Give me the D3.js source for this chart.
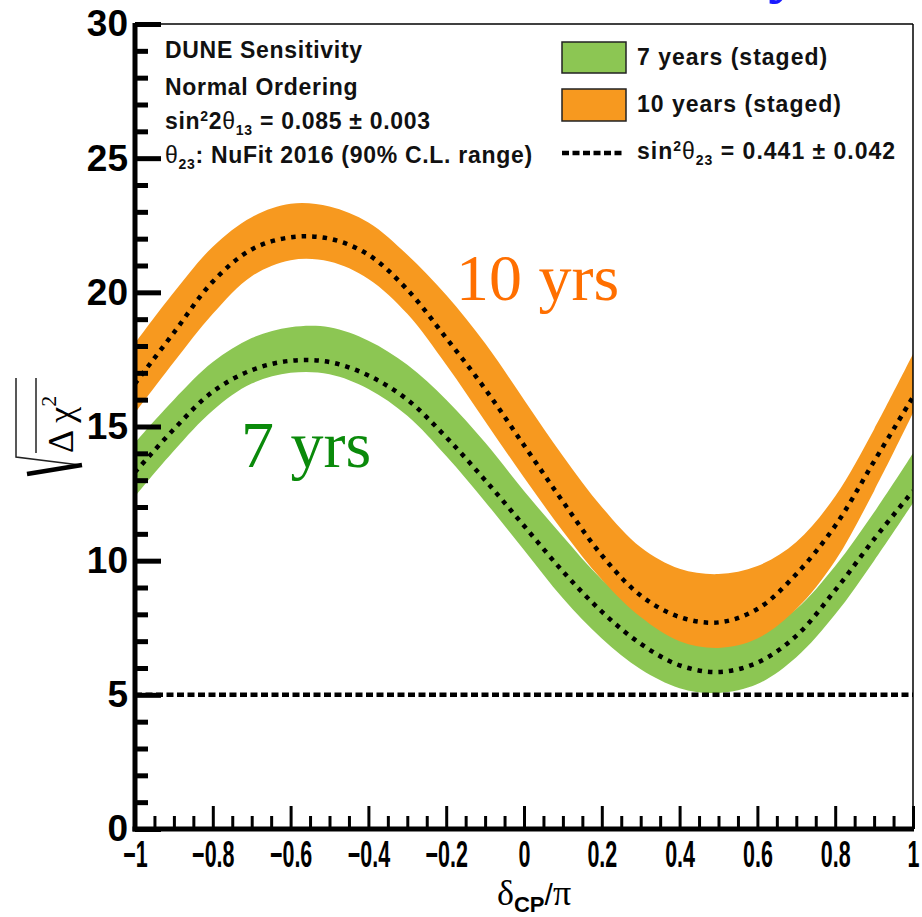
<!DOCTYPE html>
<html>
<head>
<meta charset="utf-8">
<script src="https://cdn.jsdelivr.net/npm/d3@7"></script>
<style>
  body { margin: 0; background: #fff; }
</style>
</head>
<body>
<div id="chart"></div>
<script>
// delta_CP / pi sample points
var dcp = [-1, -0.9, -0.8, -0.7, -0.6, -0.5, -0.4, -0.3, -0.2, -0.1, 0,
           0.1, 0.2, 0.3, 0.4, 0.5, 0.6, 0.7, 0.8, 0.9, 1];

// 10 years (staged): band edges and central (dotted) curve
var o10Hi  = [18.1, 20.0, 21.7, 22.8, 23.3, 23.2, 22.6, 21.4, 19.9, 18.1, 16.0,
              13.9, 12.0, 10.5, 9.7, 9.5, 9.8, 10.7, 12.4, 14.9, 17.7];
var o10Mid = [16.6, 18.5, 20.4, 21.6, 22.05, 22.0, 21.4, 20.1, 18.3, 16.4, 14.3,
              12.2, 10.2, 8.7, 7.9, 7.7, 8.2, 9.5, 11.3, 13.7, 16.1];
var o10Lo  = [15.5, 17.4, 19.2, 20.6, 21.2, 21.15, 20.5, 19.2, 17.3, 15.2, 13.1,
              11.1, 9.3, 7.9, 7.0, 6.75, 7.1, 8.2, 10.0, 12.6, 15.5];

// 7 years (staged)
var g7Hi  = [14.4, 16.0, 17.4, 18.3, 18.7, 18.7, 18.2, 17.3, 16.0, 14.4, 12.6,
             10.9, 9.3, 8.1, 7.3, 7.0, 7.3, 8.2, 9.8, 11.8, 14.0];
var g7Mid = [13.3, 14.9, 16.3, 17.1, 17.45, 17.4, 16.9, 16.0, 14.6, 13.0, 11.3,
             9.6, 8.1, 6.9, 6.1, 5.85, 6.2, 7.2, 8.9, 10.8, 12.6];
var g7Lo  = [12.4, 14.1, 15.6, 16.6, 17.0, 16.95, 16.4, 15.4, 13.9, 12.2, 10.4,
             8.6, 7.1, 5.95, 5.25, 5.07, 5.4, 6.4, 8.0, 10.0, 12.15];

var fiveSigma = 5;

var xTickVals = [-1, -0.8, -0.6, -0.4, -0.2, 0, 0.2, 0.4, 0.6, 0.8, 1];
var xTickLabels = ["\u22121", "\u22120.8", "\u22120.6", "\u22120.4", "\u22120.2", "0",
                   "0.2", "0.4", "0.6", "0.8", "1"];
var yTickVals = [0, 5, 10, 15, 20, 25, 30];

var green = "#8cc653", orange = "#f7991f";
var SANS = "Liberation Sans, Arial, sans-serif", SERIF = "Liberation Serif, Times New Roman, serif";

var W = 922, H = 917;
var x = d3.scaleLinear().domain([-1, 1]).range([135, 913]);
var y = d3.scaleLinear().domain([0, 30]).range([829, 24]);

var svg = d3.select("#chart").append("svg")
    .attr("width", W)
    .attr("height", H)
    .attr("font-family", SANS);

svg.append("clipPath").attr("id", "plot")
    .append("rect").attr("x", 135).attr("y", 24).attr("width", 778).attr("height", 805);

var plot = svg.append("g").attr("clip-path", "url(#plot)");

function band(hi, lo) {
    return d3.area()
        .x(function (d, i) { return x(dcp[i]); })
        .y0(function (d, i) { return y(lo[i]); })
        .y1(function (d, i) { return y(hi[i]); })
        .curve(d3.curveCatmullRom.alpha(0.5))(dcp);
}
function mid(vals) {
    return d3.line()
        .x(function (d, i) { return x(dcp[i]); })
        .y(function (d, i) { return y(vals[i]); })
        .curve(d3.curveCatmullRom.alpha(0.5))(dcp);
}

plot.append("path").attr("d", band(g7Hi, g7Lo)).attr("fill", green);
plot.append("path").attr("d", band(o10Hi, o10Lo)).attr("fill", orange);

[g7Mid, o10Mid].forEach(function (v) {
    plot.append("path").attr("d", mid(v))
        .attr("fill", "none").attr("stroke", "#000")
        .attr("stroke-width", 4.5).attr("stroke-dasharray", "4.5,6");
});

plot.append("line")
    .attr("x1", x(-1)).attr("x2", x(1))
    .attr("y1", y(fiveSigma)).attr("y2", y(fiveSigma))
    .attr("stroke", "#000").attr("stroke-width", 4.5).attr("stroke-dasharray", "7,3.5");

// frame (thin top / right)
svg.append("line").attr("x1", 135).attr("x2", 913).attr("y1", 24).attr("y2", 24)
    .attr("stroke", "#000").attr("stroke-width", 1.5);
svg.append("line").attr("x1", 913).attr("x2", 913).attr("y1", 24).attr("y2", 829)
    .attr("stroke", "#000").attr("stroke-width", 1.5);

// y axis: minor then major
var yMinor = d3.range(0, 31).filter(function (v) { return v % 5 !== 0; });
svg.append("g").attr("transform", "translate(135,0)")
    .call(d3.axisLeft(y).tickValues(yMinor).tickSize(-13).tickSizeOuter(0).tickFormat(""))
    .call(function (g) { g.select(".domain").remove(); })
    .selectAll("line").attr("stroke-width", 5);

var yAx = svg.append("g").attr("transform", "translate(135,0)")
    .call(d3.axisLeft(y).tickValues(yTickVals).tickSize(-26).tickSizeOuter(0).tickPadding(7));
yAx.select(".domain").attr("stroke-width", 5).attr("d", "M0," + (y(0) + 2.5) + "V" + (y(30) - 1));
yAx.selectAll(".tick line").attr("stroke-width", 5);
yAx.selectAll(".tick text")
    .attr("font-family", SANS)
    .attr("font-weight", "bold").attr("font-size", 37).attr("fill", "#000");

// x axis: minor then major
var xMinor = d3.range(-20, 21).filter(function (v) { return v % 4 !== 0; }).map(function (v) { return v / 20; });
svg.append("g").attr("transform", "translate(0," + y(0) + ")")
    .call(d3.axisBottom(x).tickValues(xMinor).tickSize(-13).tickSizeOuter(0).tickFormat(""))
    .call(function (g) { g.select(".domain").remove(); })
    .selectAll("line").attr("stroke-width", 3);

var xAx = svg.append("g").attr("transform", "translate(0," + y(0) + ")")
    .call(d3.axisBottom(x).tickValues(xTickVals).tickSize(-23).tickSizeOuter(0)
        .tickFormat(function (d, i) { return xTickLabels[i]; }));
xAx.select(".domain").attr("stroke-width", 5).attr("d", "M132.5,0H" + (x(1) + 1));
xAx.selectAll(".tick line").attr("stroke-width", 3);
xAx.selectAll(".tick text")
    .attr("y", 0).attr("dy", 0)
    .attr("transform", "translate(0,38) scale(0.58,1)")
    .attr("font-family", SANS)
    .attr("font-weight", "bold").attr("font-size", 37).attr("fill", "#000");

// x title
var xt = svg.append("text").attr("x", 497).attr("y", 905)
    .attr("font-size", 36).attr("fill", "#000");
xt.append("tspan").text("\u03b4").attr("font-family", SERIF);
xt.append("tspan").text("CP").attr("font-size", 22).attr("font-weight", "bold")
    .attr("dy", 7).attr("font-family", SANS);
xt.append("tspan").text("/").attr("dy", -7).attr("font-family", SANS).attr("font-size", 30);
xt.append("tspan").text("\u03c0").attr("font-family", SERIF);

// y title: sqrt(Delta chi^2), rotated
var yt = svg.append("text").attr("transform", "translate(73,453) rotate(-90)")
    .attr("font-family", SERIF).attr("font-size", 36).attr("fill", "#000");
yt.append("tspan").text("\u0394 \u03c7");
yt.append("tspan").text("2").attr("font-size", 22).attr("dy", -17);
svg.append("path").attr("d", "M16,378V457L80,465").attr("fill", "none")
    .attr("stroke", "#222").attr("stroke-width", 1.5);
svg.append("path").attr("d", "M36,378V453").attr("fill", "none")
    .attr("stroke", "#222").attr("stroke-width", 1.5);
svg.append("path").attr("d", "M82,465L27,474").attr("fill", "none")
    .attr("stroke", "#000").attr("stroke-width", 4.5);

// text block top-left
var info = svg.append("g").attr("font-weight", "bold").attr("font-size", 23)
    .attr("letter-spacing", 0.7).attr("fill", "#111");
info.append("text").attr("x", 165).attr("y", 58).text("DUNE Sensitivity");
info.append("text").attr("x", 165).attr("y", 95).text("Normal Ordering");
var l3 = info.append("text").attr("x", 165).attr("y", 129);
l3.append("tspan").text("sin");
l3.append("tspan").text("2").attr("font-size", 14).attr("dy", -8);
l3.append("tspan").text("2").attr("dy", 8);
l3.append("tspan").text("\u03b8").attr("font-weight", "normal");
l3.append("tspan").text("13").attr("font-size", 14).attr("dy", 6);
l3.append("tspan").text(" = 0.085  \u00b1 0.003").attr("dy", -6);
var l4 = info.append("text").attr("x", 165).attr("y", 163);
l4.append("tspan").text("\u03b8").attr("font-weight", "normal");
l4.append("tspan").text("23").attr("font-size", 14).attr("dy", 6);
l4.append("tspan").text(": NuFit 2016 (90% C.L. range)").attr("dy", -6);

// legend top-right
var leg = svg.append("g").attr("font-weight", "bold").attr("font-size", 23)
    .attr("letter-spacing", 1).attr("fill", "#111");
leg.append("rect").attr("x", 562).attr("y", 42).attr("width", 64).attr("height", 31)
    .attr("fill", green).attr("stroke", "#222").attr("stroke-width", 1.5);
leg.append("rect").attr("x", 562).attr("y", 89).attr("width", 64).attr("height", 32)
    .attr("fill", orange).attr("stroke", "#222").attr("stroke-width", 1.5);
leg.append("line").attr("x1", 562).attr("x2", 624).attr("y1", 153).attr("y2", 153)
    .attr("stroke", "#000").attr("stroke-width", 4.5).attr("stroke-dasharray", "7,3.5");
leg.append("text").attr("x", 637).attr("y", 65).text("7 years (staged)");
leg.append("text").attr("x", 637).attr("y", 112).text("10 years (staged)");
var l5 = leg.append("text").attr("x", 637).attr("y", 159);
l5.append("tspan").text("sin");
l5.append("tspan").text("2").attr("font-size", 14).attr("dy", -8);
l5.append("tspan").text("\u03b8").attr("font-weight", "normal").attr("dy", 8);
l5.append("tspan").text("23").attr("font-size", 14).attr("dy", 6);
l5.append("tspan").text(" = 0.441 \u00b1 0.042").attr("dy", -6);

// curve labels
svg.append("text").attr("x", 456).attr("y", 300).text("10 yrs")
    .attr("font-family", SERIF).attr("font-size", 66).attr("fill", "#ff6f00");
svg.append("text").attr("x", 241).attr("y", 467).text("7 yrs")
    .attr("font-family", SERIF).attr("font-size", 66).attr("fill", "#0a8a0a");

// cut-off blue glyph at the very top (remnant of a title above)
svg.append("text").attr("x", 768).attr("y", -10).text("y")
    .attr("font-family", SERIF).attr("font-weight", "bold")
    .attr("font-size", 68).attr("fill", "#1a1aff");
</script>
</body>
</html>
